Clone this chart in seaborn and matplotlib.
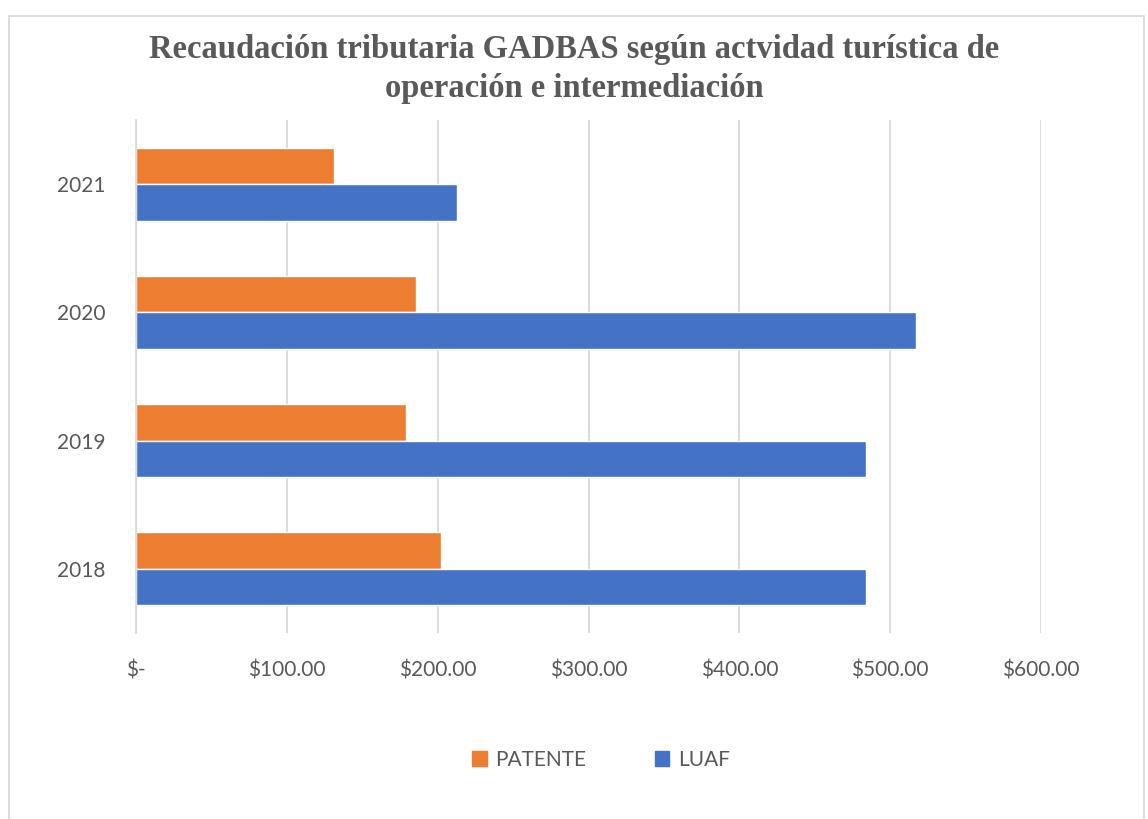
import matplotlib
matplotlib.use("Agg")
import pandas as pd
import seaborn as sns
import matplotlib.pyplot as plt
from matplotlib.patches import Rectangle
from matplotlib.ticker import FuncFormatter

years = ["2021", "2020", "2019", "2018"]
patente = [131, 185.5, 179, 202]
luaf = [213, 517, 484, 484]
series_names = ["PATENTE", "LUAF"]
colors = ["#ED7D31", "#4472C4"]
x_ticks = [0, 100, 200, 300, 400, 500, 600]

df = pd.DataFrame({
    "year": years * 2,
    "valor": patente + luaf,
    "serie": [series_names[0]] * 4 + [series_names[1]] * 4,
})

sns.set_theme(style="white")
plt.rcParams["font.family"] = ["Lato", "DejaVu Sans"]

fig = plt.figure(figsize=(11.48, 8.19), dpi=100)
ax = fig.add_axes([136 / 1148, 1 - 633 / 819, (1041 - 136) / 1148, (633 - 120) / 819])

sns.barplot(data=df, y="year", x="valor", hue="serie", order=years,
            hue_order=series_names, palette=colors, orient="h",
            width=0.57, saturation=1, ax=ax, legend=False)

ax.set_xlim(0, 600)
ax.set_ylim(3.5, -0.5)
ax.set_xticks(x_ticks)
ax.xaxis.set_major_formatter(FuncFormatter(lambda v, p: "$-" if v == 0 else f"${v:,.2f}"))
ax.grid(axis="x", color="#D9D9D9", linewidth=1.3)
ax.set_axisbelow(True)
for s in ["top", "right", "bottom"]:
    ax.spines[s].set_visible(False)
ax.spines["left"].set_color("#D9D9D9")
ax.spines["left"].set_linewidth(1.3)
ax.set_xlabel("")
ax.set_ylabel("")
ax.tick_params(axis="x", length=0, pad=20, labelsize=15, labelcolor="#595959")
ax.tick_params(axis="y", length=0, pad=22, labelsize=15, labelcolor="#595959")

fig.text(0.5, 1 - 69 / 819, "Recaudación tributaria GADBAS según actvidad turística de\noperación e intermediación",
         ha="center", va="center", fontsize=23.5, fontweight="bold", color="#595959",
         family=["Liberation Serif", "DejaVu Serif"], linespacing=1.35)

# legend
handles = [Rectangle((0, 0), 1, 1, color=c) for c in colors]
fig.legend(handles, series_names, loc="center", bbox_to_anchor=(601 / 1148, 1 - 760 / 819),
           ncol=2, frameon=False, fontsize=15, labelcolor="#595959",
           handlelength=0.7, handleheight=0.7, columnspacing=3.3, handletextpad=0.4)

# chart border
fig.patches.append(Rectangle((9 / 1148, -0.01), (1144 - 9) / 1148, 1 - 16 / 819 + 0.01,
                             transform=fig.transFigure, fill=False, edgecolor="#D9D9D9",
                             linewidth=1.3))

fig.savefig("out.png", dpi=100)
